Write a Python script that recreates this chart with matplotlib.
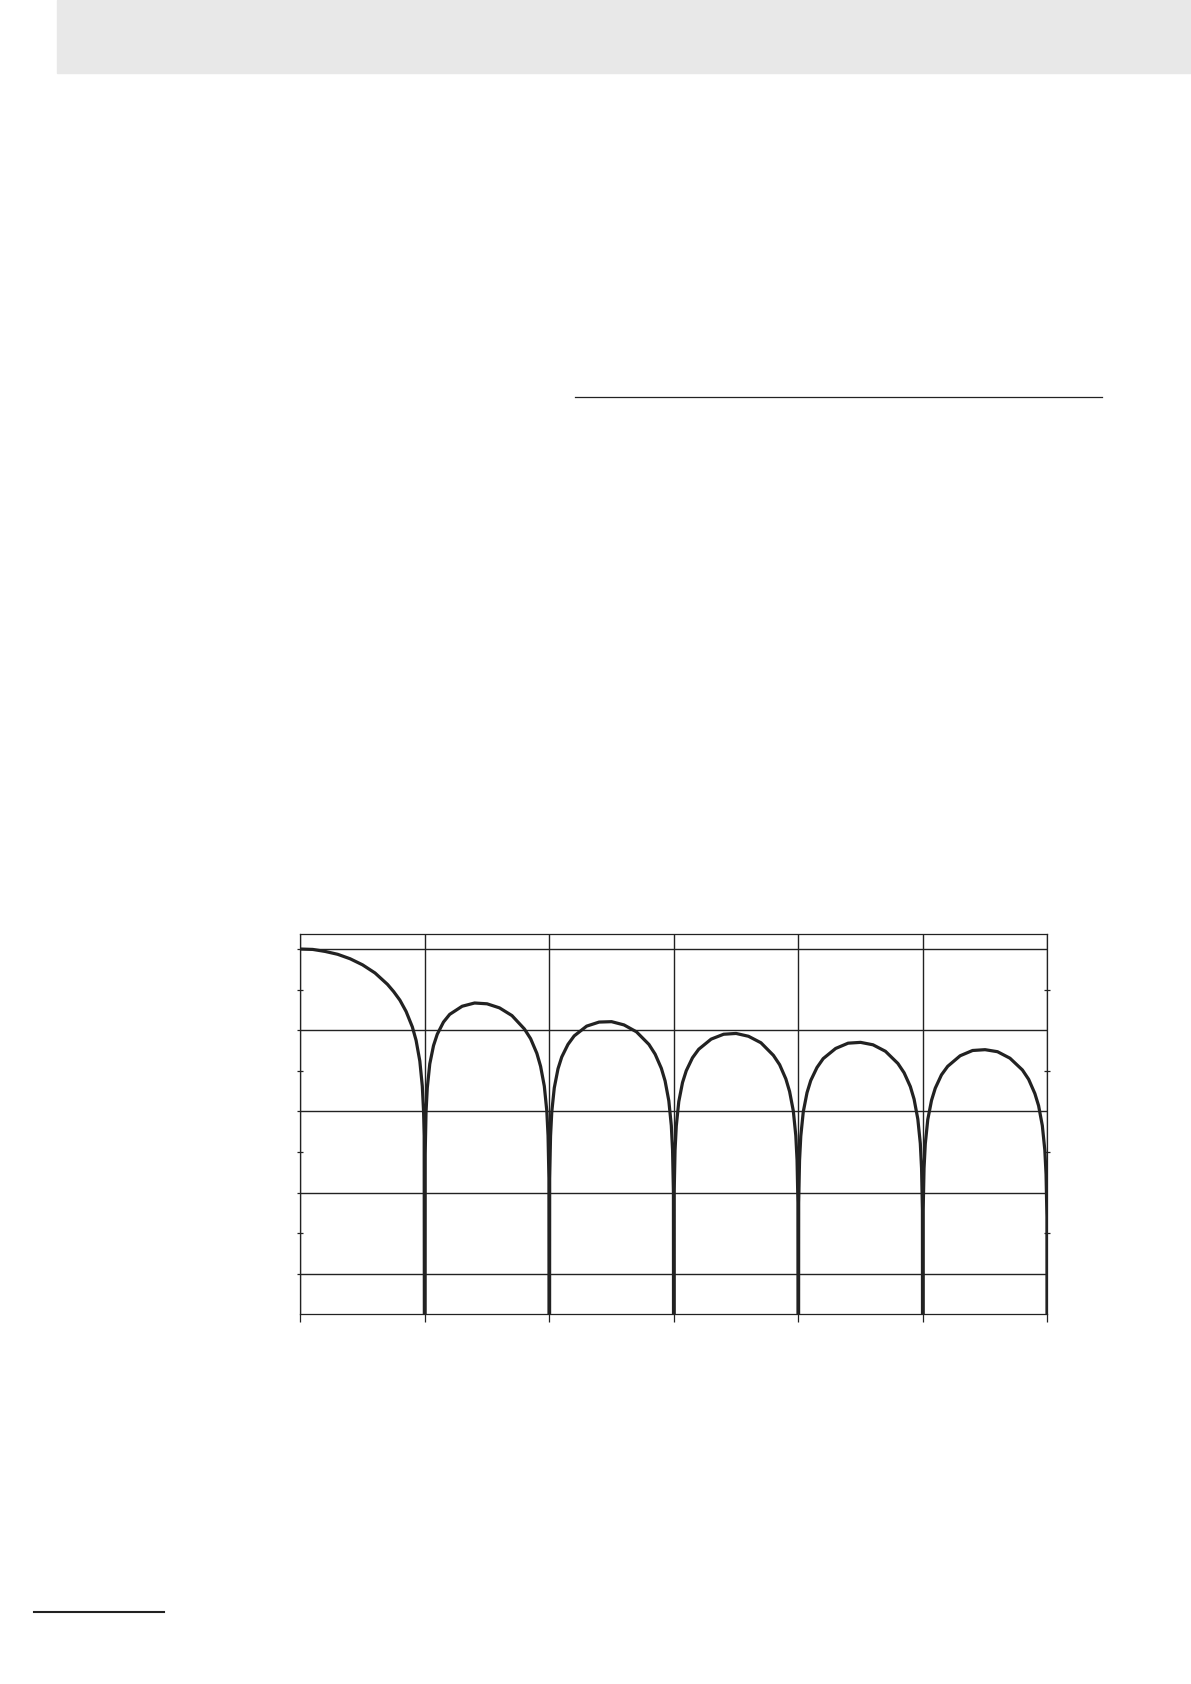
import matplotlib
matplotlib.use("Agg")
import matplotlib.pyplot as plt
from matplotlib.patches import Rectangle
from matplotlib.lines import Line2D

# frequency offsets inside each lobe (in units of the null spacing)
main_offsets = [0, 0.1, 0.2, 0.3, 0.4, 0.5, 0.6, 0.7, 0.75, 0.8, 0.85, 0.9, 0.93, 0.96, 0.98, 0.99, 0.995]
side_offsets = [0.003, 0.01, 0.02, 0.04, 0.07, 0.1, 0.15, 0.2, 0.3, 0.4, 0.5, 0.6, 0.7, 0.8, 0.85,
                0.9, 0.93, 0.96, 0.98, 0.99, 0.997]

# gain in dB read along each lobe
lobe0_db = [0.0, -0.1, -0.6, -1.3, -2.4, -3.9, -5.9, -8.7, -10.5, -12.6, -15.4, -19.2, -22.5, -27.6, -33.8,
            -39.9, -46.0]
lobe1_db = [-50.5, -40.1, -34.2, -28.3, -23.8, -21.0, -18.0, -16.1, -14.1, -13.3, -13.5, -14.5, -16.4, -19.7,
            -22.1, -25.7, -28.9, -33.8, -39.9, -46.0, -56.5]
lobe2_db = [-56.5, -46.1, -40.1, -34.2, -29.5, -26.6, -23.5, -21.4, -19.0, -18.0, -17.9, -18.7, -20.4, -23.5,
            -25.9, -29.4, -32.5, -37.4, -43.5, -49.5, -60.0]
lobe3_db = [-60.0, -49.6, -43.6, -37.6, -32.9, -30.0, -26.8, -24.7, -22.2, -21.0, -20.8, -21.5, -23.1, -26.2,
            -28.5, -32.0, -35.1, -39.9, -46.0, -52.0, -62.5]
lobe4_db = [-62.5, -52.1, -46.1, -40.1, -35.4, -32.4, -29.2, -27.0, -24.5, -23.2, -23.0, -23.6, -25.2, -28.2,
            -30.5, -33.9, -37.0, -41.9, -47.9, -54.0, -64.4]
lobe5_db = [-64.4, -54.0, -48.0, -42.0, -37.3, -34.3, -31.0, -28.9, -26.3, -25.0, -24.8, -25.3, -26.9, -29.8,
            -32.1, -35.6, -38.6, -43.5, -49.5, -55.5, -66.0]

null_freq = [1, 2, 3, 4, 5, 6]
null_db = -200  # nulls drop off the bottom of the chart

lobes = [lobe0_db, lobe1_db, lobe2_db, lobe3_db, lobe4_db, lobe5_db]

xs, ys = [], []
for k, db in enumerate(lobes):
    offs = main_offsets if k == 0 else side_offsets
    xs += [k + f for f in offs]
    ys += db
    xs.append(null_freq[k])
    ys.append(null_db)

fig = plt.figure(figsize=(11.91, 16.84), dpi=100)

# page decorations
fig.patches.append(Rectangle((57 / 1191, 1 - 73 / 1684), 1, 73 / 1684,
                             transform=fig.transFigure, color='#e8e8e8', zorder=0))
fig.lines.append(Line2D([575 / 1191, 1102 / 1191], [1 - 397 / 1684] * 2,
                        transform=fig.transFigure, color='#222222', lw=0.9))
fig.lines.append(Line2D([34 / 1191, 164 / 1191], [1 - 1612 / 1684] * 2,
                        transform=fig.transFigure, color='#222222', lw=1.5))

ax = fig.add_axes([300.3 / 1191, 1 - 1314.3 / 1684, 747 / 1191, 380.3 / 1684])
ax.plot(xs, ys, color='#222222', lw=2.3, solid_joinstyle='round')
ax.set_xlim(0, 6)
ax.set_ylim(-90, 3.7)
ax.set_xticks(range(7))
ax.set_yticks([0, -20, -40, -60, -80])
ax.set_yticks([-10, -30, -50, -70], minor=True)
ax.grid(True, which='major', color='#222222', lw=1.0)
ax.tick_params(which='both', labelleft=False, labelbottom=False, color='#222222')
ax.tick_params(axis='x', direction='out', length=6, width=0.9)
ax.tick_params(axis='y', which='major', direction='out', length=2, width=0.9)
ax.tick_params(axis='y', which='minor', direction='inout', length=5, width=0.9, right=True)
for s in ax.spines.values():
    s.set_color('#222222')
    s.set_linewidth(0.9)

fig.savefig('out.png', dpi=100)
